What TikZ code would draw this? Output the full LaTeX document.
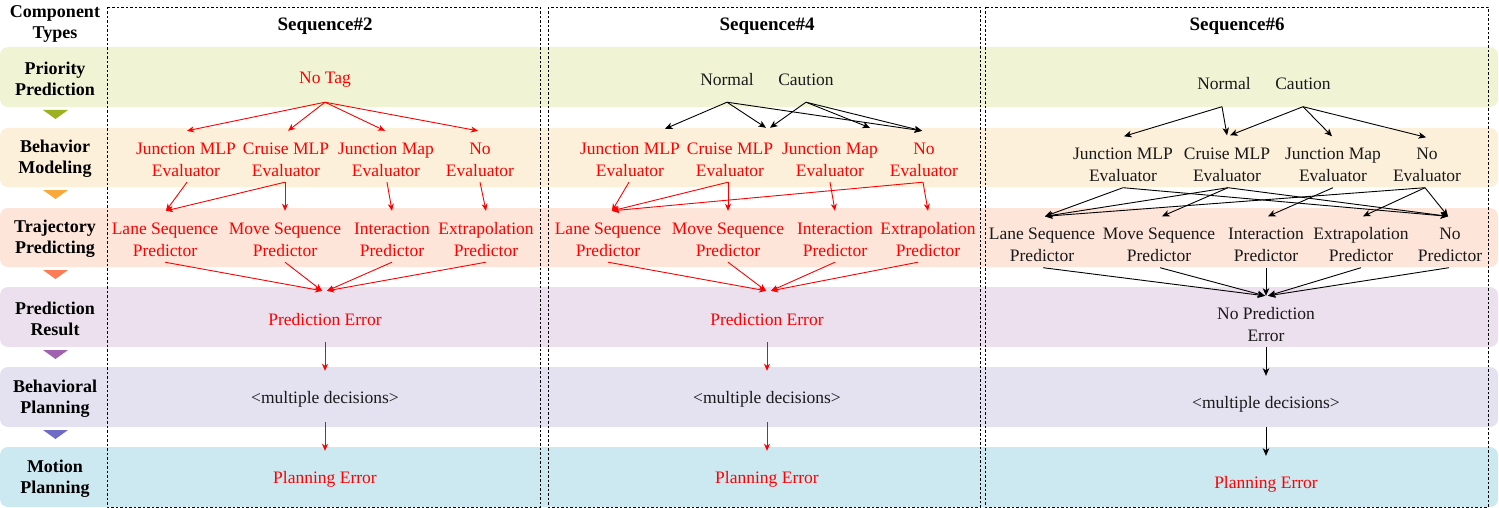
\documentclass[tikz,border=0pt]{standalone}
\usepackage{fontspec}
\setmainfont{Liberation Serif}
\usetikzlibrary{arrows.meta}
\definecolor{bandA}{HTML}{F0F4D5}
\definecolor{bandB}{HTML}{FDF0DA}
\definecolor{bandC}{HTML}{FDE5DA}
\definecolor{bandD}{HTML}{EDE0EE}
\definecolor{bandE}{HTML}{E4E2F0}
\definecolor{bandF}{HTML}{CCE9F1}
\definecolor{triA}{HTML}{9BB11F}
\definecolor{triB}{HTML}{F9A83A}
\definecolor{triC}{HTML}{FC7C55}
\definecolor{triD}{HTML}{A062AE}
\definecolor{triE}{HTML}{6F6BC6}
\definecolor{txtred}{HTML}{FF0000}
\definecolor{txtblk}{HTML}{1A1A1A}
\newcommand{\twoln}[2]{\rule{0pt}{18pt}#1\\#2}
\tikzset{
  band/.style={rounded corners=8pt, draw=none},
  tri/.style={draw=none},
  lbl/.style={font=\fontsize{18}{21}\selectfont\bfseries, align=center, text=black, inner sep=0pt},
  ttl/.style={font=\fontsize{19}{21}\selectfont\bfseries, text=black, inner sep=0pt},
  seqbox/.style={draw=black, line width=0.8pt, dash pattern=on 2.5pt off 2pt},
  item/.style={font=\fontsize{17.5}{22}\selectfont, align=center, minimum height=51pt, inner sep=0pt},
  rtxt/.style={item, text=txtred},
  btxt/.style={item, text=txtblk},
  ra/.style={draw=txtred, line width=0.9pt, -{Stealth[length=7pt,width=6pt,inset=2pt]}},
  ba/.style={draw=black, line width=0.9pt, -{Stealth[length=7.5pt,width=6.5pt,inset=2pt]}},
}
\begin{document}
\begin{tikzpicture}[x=1pt,y=-1pt]
\useasboundingbox (0,0) rectangle (1499,508);
% bands
\fill[band, bandA] (0,47) rectangle (1498,107);
\fill[band, bandB] (0,128) rectangle (1498,187);
\fill[band, bandC] (0,208) rectangle (1498,267);
\fill[band, bandD] (0,287) rectangle (1498,347);
\fill[band, bandE] (0,367) rectangle (1498,427);
\fill[band, bandF] (0,447) rectangle (1498,507);
% triangles
\fill[tri, triA] (43,110) -- (68,110) -- (55.5,119) -- cycle;
\fill[tri, triB] (43,190) -- (68,190) -- (55.5,199) -- cycle;
\fill[tri, triC] (43,270) -- (68,270) -- (55.5,279) -- cycle;
\fill[tri, triD] (43,350) -- (68,350) -- (55.5,359) -- cycle;
\fill[tri, triE] (43,430) -- (68,430) -- (55.5,439) -- cycle;
% sequence boxes
\draw[seqbox] (107,7) rectangle (540,507);
\draw[seqbox] (548,7) rectangle (980,507);
\draw[seqbox] (985,7) rectangle (1488,507);
% left labels
\node[lbl] (ct) at (55,23.5) {Component\\Types};
\node[lbl] (lpp) at (55,78.5) {Priority\\Prediction};
\node[lbl] (lbm) at (55,159) {Behavior\\Modeling};
\node[lbl] (ltp) at (55,239) {Trajectory\\Predicting};
\node[lbl] (lpr) at (55,318.5) {Prediction\\Result};
\node[lbl] (lbp) at (55,398.5) {Behavioral\\Planning};
\node[lbl] (lmp) at (55,479) {Motion\\Planning};
% titles
\node[ttl] (t2) at (325,26) {Sequence\#2};
\node[ttl] (t4) at (767,26) {Sequence\#4};
\node[ttl] (t6) at (1237,26) {Sequence\#6};

% ===== Sequence 2 =====
\node[rtxt] (s2tag) at (325,76.5) {\rule{0pt}{18pt}No Tag};
\node[rtxt] (s2e1) at (186,156.5) {\twoln{Junction MLP}{Evaluator}};
\node[rtxt] (s2e2) at (286,156.5) {\twoln{Cruise MLP}{Evaluator}};
\node[rtxt] (s2e3) at (386,156.5) {\twoln{Junction Map}{Evaluator}};
\node[rtxt] (s2e4) at (480,156.5) {\twoln{No}{Evaluator}};
\node[rtxt] (s2p1) at (165,236.5) {\twoln{Lane Sequence}{Predictor}};
\node[rtxt] (s2p2) at (285,236.5) {\twoln{Move Sequence}{Predictor}};
\node[rtxt] (s2p3) at (392,236.5) {\twoln{Interaction}{Predictor}};
\node[rtxt] (s2p4) at (486,236.5) {\twoln{Extrapolation}{Predictor}};
\node[rtxt] (s2err) at (325,316.5) {\rule{0pt}{18pt}Prediction Error};
\node[btxt] (s2dec) at (325,396.5) {\rule{0pt}{18pt}<multiple decisions>};
\node[rtxt] (s2plan) at (325,476.5) {\rule{0pt}{18pt}Planning Error};
\draw[ra] (s2tag.south) -- ([xshift=1pt]s2e1.north);
\draw[ra] (s2tag.south) -- ([xshift=2pt]s2e2.north);
\draw[ra] (s2tag.south) -- ([xshift=-1pt]s2e3.north);
\draw[ra] (s2tag.south) -- ([xshift=-2pt]s2e4.north);
\draw[ra] ([xshift=1pt]s2e1.south) -- ([xshift=1pt]s2p1.north);
\draw[ra] ([xshift=-1pt]s2e2.south) -- ([xshift=1pt]s2p1.north);
\draw[ra] ([xshift=-1pt]s2e2.south) -- (s2p2.north);
\draw[ra] ([xshift=1pt]s2e3.south) -- (s2p3.north);
\draw[ra] (s2e4.south) -- (s2p4.north);
\draw[ra] (s2p1.south) -- ([xshift=-3pt]s2err.north);
\draw[ra] (s2p2.south) -- ([xshift=-3pt]s2err.north);
\draw[ra] (s2p3.south) -- ([xshift=2pt]s2err.north);
\draw[ra] (s2p4.south) -- ([xshift=2pt]s2err.north);
\draw[ra] (s2err.south) -- (s2dec.north);
\draw[ra] (s2dec.south) -- (s2plan.north);

% ===== Sequence 4 =====
\node[btxt] (s4n) at (727,76.5) {\rule{0pt}{18pt}Normal};
\node[btxt] (s4c) at (806,76.5) {\rule{0pt}{18pt}Caution};
\node[rtxt] (s4e1) at (630,156.5) {\twoln{Junction MLP}{Evaluator}};
\node[rtxt] (s4e2) at (730,156.5) {\twoln{Cruise MLP}{Evaluator}};
\node[rtxt] (s4e3) at (830,156.5) {\twoln{Junction Map}{Evaluator}};
\node[rtxt] (s4e4) at (924,156.5) {\twoln{No}{Evaluator}};
\node[rtxt] (s4p1) at (608,236.5) {\twoln{Lane Sequence}{Predictor}};
\node[rtxt] (s4p2) at (728,236.5) {\twoln{Move Sequence}{Predictor}};
\node[rtxt] (s4p3) at (835,236.5) {\twoln{Interaction}{Predictor}};
\node[rtxt] (s4p4) at (928,236.5) {\twoln{Extrapolation}{Predictor}};
\node[rtxt] (s4err) at (767,316.5) {\rule{0pt}{18pt}Prediction Error};
\node[btxt] (s4dec) at (767,396.5) {\rule{0pt}{18pt}<multiple decisions>};
\node[rtxt] (s4plan) at (767,476.5) {\rule{0pt}{18pt}Planning Error};
\draw[ba] (s4n.south) -- ([xshift=35pt,yshift=2pt]s4e1.north);
\draw[ba] (s4n.south) -- ([xshift=36pt,yshift=3pt]s4e2.north);
\draw[ba] (s4n.south) -- ([xshift=-2pt]s4e4.north);
\draw[ba] (s4c.south) -- ([xshift=40pt,yshift=3pt]s4e2.north);
\draw[ba] (s4c.south) -- ([xshift=40pt,yshift=3pt]s4e3.north);
\draw[ba] (s4c.south) -- ([xshift=-2pt]s4e4.north);
\draw[ra] ([xshift=-1pt]s4e1.south) -- ([xshift=4pt]s4p1.north);
\draw[ra] ([xshift=-2pt]s4e2.south) -- ([xshift=4pt]s4p1.north);
\draw[ra] ([xshift=-2pt]s4e2.south) -- (s4p2.north);
\draw[ra] (s4e3.south) -- (s4p3.north);
\draw[ra] ([xshift=-1pt]s4e4.south) -- ([xshift=4pt]s4p1.north);
\draw[ra] ([xshift=-1pt]s4e4.south) -- (s4p4.north);
\draw[ra] (s4p1.south) -- ([xshift=-1pt]s4err.north);
\draw[ra] (s4p2.south) -- ([xshift=-1pt]s4err.north);
\draw[ra] (s4p3.south) -- ([xshift=4pt]s4err.north);
\draw[ra] ([xshift=-10pt]s4p4.south) -- ([xshift=4pt]s4err.north);
\draw[ra] (s4err.south) -- (s4dec.north);
\draw[ra] (s4dec.south) -- (s4plan.north);

% ===== Sequence 6 =====
\node[btxt] (s6n) at (1224,81) {\rule{0pt}{18pt}Normal};
\node[btxt] (s6c) at (1303,81) {\rule{0pt}{18pt}Caution};
\node[btxt] (s6e1) at (1123,162) {\twoln{Junction MLP}{Evaluator}};
\node[btxt] (s6e2) at (1227,162) {\twoln{Cruise MLP}{Evaluator}};
\node[btxt] (s6e3) at (1333,162) {\twoln{Junction Map}{Evaluator}};
\node[btxt] (s6e4) at (1427,162) {\twoln{No}{Evaluator}};
\node[btxt] (s6p1) at (1042,242) {\twoln{Lane Sequence}{Predictor}};
\node[btxt] (s6p2) at (1159,242) {\twoln{Move Sequence}{Predictor}};
\node[btxt] (s6p3) at (1266,242) {\twoln{Interaction}{Predictor}};
\node[btxt] (s6p4) at (1361,242) {\twoln{Extrapolation}{Predictor}};
\node[btxt] (s6p5) at (1450,242) {\twoln{No}{Predictor}};
\node[btxt] (s6err) at (1266,321.5) {\twoln{No Prediction}{Error}};
\node[btxt] (s6dec) at (1266,401.5) {\rule{0pt}{18pt}<multiple decisions>};
\node[rtxt] (s6plan) at (1266,481.5) {\rule{0pt}{18pt}Planning Error};
\draw[ba] ([xshift=-2pt]s6n.south) -- ([xshift=1pt]s6e1.north);
\draw[ba] ([xshift=-2pt]s6n.south) -- ([yshift=1pt]s6e2.north);
\draw[ba] (s6c.south) -- ([xshift=3pt,yshift=1pt]s6e2.north);
\draw[ba] (s6c.south) -- ([xshift=-1pt]s6e3.north);
\draw[ba] (s6c.south) -- ([xshift=-1pt,yshift=-1pt]s6e4.north);
\draw[ba] (s6e1.south) -- ([xshift=3pt]s6p1.north);
\draw[ba] (s6e1.south) -- ([xshift=-2pt]s6p5.north);
\draw[ba] ([xshift=1pt]s6e2.south) -- ([xshift=3pt]s6p1.north);
\draw[ba] ([xshift=1pt]s6e2.south) -- ([xshift=3pt]s6p2.north);
\draw[ba] ([xshift=1pt]s6e2.south) -- ([xshift=-2pt]s6p5.north);
\draw[ba] (s6e3.south) -- ([xshift=2pt]s6p3.north);
\draw[ba] ([xshift=-2pt]s6e4.south) -- ([xshift=3pt]s6p1.north);
\draw[ba] ([xshift=-2pt]s6e4.south) -- ([xshift=2pt]s6p4.north);
\draw[ba] ([xshift=-2pt]s6e4.south) -- ([xshift=-2pt]s6p5.north);
\draw[ba] ([xshift=1pt]s6p1.south) -- ([xshift=-1pt]s6err.north);
\draw[ba] ([xshift=1pt]s6p2.south) -- ([xshift=-1pt]s6err.north);
\draw[ba] (s6p3.south) -- (s6err.north);
\draw[ba] (s6p4.south) -- ([xshift=2pt]s6err.north);
\draw[ba] ([xshift=-1pt]s6p5.south) -- ([xshift=2pt]s6err.north);
\draw[ba] (s6err.south) -- (s6dec.north);
\draw[ba] (s6dec.south) -- (s6plan.north);
\end{tikzpicture}
\end{document}
